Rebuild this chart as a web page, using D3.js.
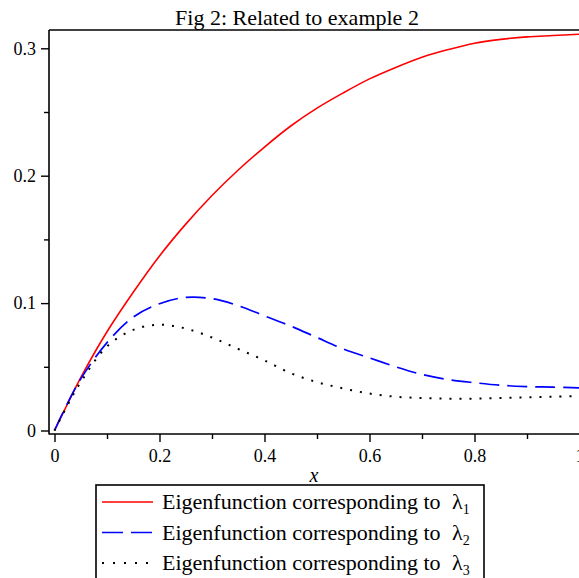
<!DOCTYPE html>
<html>
<head>
<meta charset="utf-8">
<script src="https://cdn.jsdelivr.net/npm/d3@7"></script>
<style>
  body { margin: 0; background: #fff; }
  text { font-family: "Liberation Serif", "Times New Roman", serif; fill: #000; }
</style>
</head>
<body>
<svg id="chart" width="579" height="578"></svg>
<script>
// data
const xs = [0, 0.025, 0.05, 0.1, 0.15, 0.2, 0.25, 0.3, 0.35, 0.4, 0.45, 0.5,
  0.55, 0.6, 0.65, 0.7, 0.75, 0.8, 0.85, 0.9, 0.95, 1.0];
const eig1 = [0, 0.021, 0.0415, 0.0775, 0.1085, 0.137, 0.162, 0.1845, 0.2045, 0.2225, 0.239, 0.253,
  0.265, 0.276, 0.285, 0.293, 0.299, 0.304, 0.307, 0.309, 0.310, 0.311];
const eig2 = [0, 0.0215, 0.0405, 0.069, 0.089, 0.0995, 0.1045, 0.1035, 0.098, 0.090, 0.082, 0.073,
  0.064, 0.057, 0.050, 0.044, 0.040, 0.0375, 0.0355, 0.0345, 0.034, 0.0335];
const eig3 = [0, 0.020, 0.038, 0.066, 0.079, 0.083, 0.080, 0.073, 0.064, 0.055, 0.045, 0.038,
  0.033, 0.029, 0.0265, 0.0255, 0.025, 0.025, 0.0255, 0.026, 0.0265, 0.027];

const xMajor = [0, 0.2, 0.4, 0.6, 0.8, 1];
const xMinor = [0.1, 0.3, 0.5, 0.7, 0.9];
const yMajor = [0, 0.1, 0.2, 0.3];
const yMinor = [0.05, 0.15, 0.25];

const seriesNames = ["1", "2", "3"];
const seriesColors = ["#ff0000", "#0000ff", "#000000"];
const seriesDash = [null, "20,8", "2,8"];
const seriesWidth = [1.6, 1.7, 2];

const title = "Fig 2: Related to example 2";
const legendText = "Eigenfunction corresponding to";

const svg = d3.select("#chart");

const x = d3.scaleLinear().domain([0, 1]).range([54.5, 579.5]);
const y = d3.scaleLinear().domain([0, 0.3]).range([430.5, 48.3]);

const fmt = (d) => (d === 0 ? "0" : d === 1 ? "1" : d3.format(".1f")(d));

// axis frame
const frame = svg.append("g").attr("stroke", "#000").attr("stroke-width", 1.6);
frame.append("line").attr("x1", 49).attr("x2", 579).attr("y1", 30).attr("y2", 30);
frame.append("line").attr("x1", 49).attr("x2", 49).attr("y1", 30).attr("y2", 434.5);
frame.append("line").attr("x1", 49).attr("x2", 579).attr("y1", 434).attr("y2", 434);

// y axis
const yAxis = svg.append("g").attr("transform", "translate(49,0)");
yAxis.append("g")
  .call(d3.axisLeft(y).tickValues(yMajor).tickSize(8).tickPadding(5).tickFormat(fmt));
yAxis.append("g")
  .call(d3.axisLeft(y).tickValues(yMinor).tickSize(5).tickFormat(""));

// x axis
const xAxis = svg.append("g").attr("transform", "translate(0,434)");
xAxis.append("g")
  .call(d3.axisBottom(x).tickValues(xMajor).tickSize(8).tickPadding(7).tickFormat(fmt));
xAxis.append("g")
  .call(d3.axisBottom(x).tickValues(xMinor).tickSize(5).tickFormat(""));

svg.selectAll(".domain").remove();
svg.selectAll(".tick line").attr("stroke", "#000").attr("stroke-width", 1.4);
svg.selectAll(".tick text")
  .style("font-family", '"Liberation Serif", serif')
  .style("font-size", "18px")
  .attr("fill", "#000");

// title and x label
svg.append("text")
  .attr("x", 297).attr("y", 25)
  .attr("text-anchor", "middle")
  .style("font-size", "22px")
  .text(title);

svg.append("text")
  .attr("x", 314).attr("y", 482)
  .attr("text-anchor", "middle")
  .style("font-size", "20px")
  .style("font-style", "italic")
  .text("x");

// curves
const series = [eig1, eig2, eig3];
const line = d3.line()
  .x((d) => x(d[0]))
  .y((d) => y(d[1]))
  .curve(d3.curveCatmullRom.alpha(0.5));

svg.append("g")
  .selectAll("path")
  .data(series)
  .enter()
  .append("path")
  .attr("d", (vals) => line(xs.map((xv, i) => [xv, vals[i]])))
  .attr("fill", "none")
  .attr("stroke", (_, i) => seriesColors[i])
  .attr("stroke-width", (_, i) => seriesWidth[i])
  .attr("stroke-dasharray", (_, i) => seriesDash[i]);

// legend
const legend = svg.append("g");
legend.append("rect")
  .attr("x", 96).attr("y", 485)
  .attr("width", 388).attr("height", 110)
  .attr("fill", "#fff")
  .attr("stroke", "#000")
  .attr("stroke-width", 1.6);

const rows = legend.selectAll("g.row")
  .data(seriesNames)
  .enter()
  .append("g")
  .attr("class", "row")
  .attr("transform", (_, i) => `translate(0, ${509 + i * 30.5})`);

rows.append("line")
  .attr("x1", 102).attr("x2", 153)
  .attr("y1", -7).attr("y2", -7)
  .attr("stroke", (_, i) => seriesColors[i])
  .attr("stroke-width", (_, i) => seriesWidth[i])
  .attr("stroke-dasharray", (_, i) => (i === 1 ? "21,8" : i === 2 ? "2,9" : null));

rows.append("text")
  .attr("x", 162).attr("y", 0)
  .style("font-size", "22px")
  .text(legendText);

const lam = rows.append("text")
  .attr("x", 452).attr("y", 0)
  .style("font-size", "22px");
lam.append("tspan").text("λ");
lam.append("tspan")
  .attr("dy", 5)
  .style("font-size", "14px")
  .text((d) => d);
</script>
</body>
</html>
